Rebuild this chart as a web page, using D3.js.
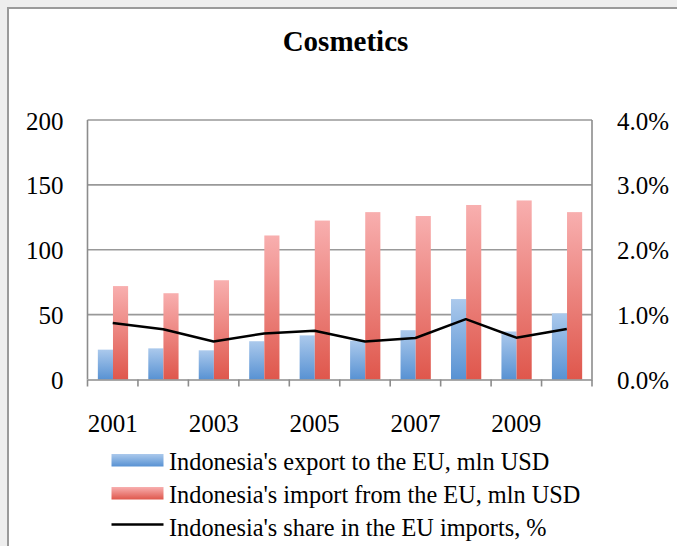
<!DOCTYPE html>
<html>
<head>
<meta charset="utf-8">
<script src="https://cdn.jsdelivr.net/npm/d3@7"></script>
<style>
  html, body { margin: 0; padding: 0; background: #eeeeee; }
  svg { display: block; }
  text { font-family: "Liberation Serif", "Times New Roman", serif; fill: #000; }
</style>
</head>
<body>
<svg id="chart" width="677" height="546"></svg>
<script>
const title = "Cosmetics";
const years = ["2001","2002","2003","2004","2005","2006","2007","2008","2009","2010"];
const exportEU = [23, 24, 22.5, 29.5, 34, 30, 38, 62, 37, 51];
const importEU = [72, 66.5, 76.5, 111, 122.5, 129, 126, 134.5, 138, 129];
const shareEU = [0.0087, 0.00775, 0.00585, 0.0071, 0.0075, 0.00585, 0.0064, 0.0093, 0.00645, 0.0078];
const leftTicks = [0, 50, 100, 150, 200];
const rightTicks = [0, 0.01, 0.02, 0.03, 0.04];
const yearLabels = ["2001","2003","2005","2007","2009"];
const legendLabels = [
  "Indonesia's export to the EU, mln USD",
  "Indonesia's import from the EU, mln USD",
  "Indonesia's share in the EU imports, %"
];

const svg = d3.select("#chart");
const W = 677, H = 546;
const plot = { left: 87.5, right: 592, top: 120, bottom: 379.5 };

// frame
svg.append("rect").attr("x", 8).attr("y", 8).attr("width", W).attr("height", H)
  .attr("fill", "#fff").attr("stroke", "#9a9a9a").attr("stroke-width", 2);

// gradients
const defs = svg.append("defs");
function grad(id, top, bottom) {
  const g = defs.append("linearGradient").attr("id", id)
    .attr("x1", 0).attr("y1", 0).attr("x2", 0).attr("y2", 1);
  g.append("stop").attr("offset", "0%").attr("stop-color", top);
  g.append("stop").attr("offset", "100%").attr("stop-color", bottom);
}
grad("gBlue", "#abc9ec", "#5892d3");
grad("gRed", "#f8afaf", "#df574c");

// title
svg.append("text").attr("x", 345.5).attr("y", 50.5).attr("text-anchor", "middle")
  .style("font-size", "29px").style("font-weight", "bold").text(title);

// scales
const x = d3.scaleBand().domain(years).range([plot.left, plot.right]).padding(0);
const xs = d3.scaleBand().domain(["exp", "imp"]).range([x.bandwidth() * 0.205, x.bandwidth() * 0.805]).padding(0);
const yL = d3.scaleLinear().domain([0, 200]).range([plot.bottom, plot.top]);
const yR = d3.scaleLinear().domain([0, 0.04]).range([plot.bottom, plot.top]);

// gridlines
svg.append("g").selectAll("line").data(leftTicks.filter(d => d > 0)).join("line")
  .attr("x1", plot.left).attr("x2", plot.right)
  .attr("y1", d => yL(d)).attr("y2", d => yL(d))
  .attr("stroke", "#999").attr("stroke-width", 1.6);

// bars
const groups = svg.append("g").selectAll("g").data(years).join("g")
  .attr("transform", d => `translate(${x(d)},0)`);
groups.append("rect")
  .attr("x", xs("exp")).attr("width", xs.bandwidth())
  .attr("y", (d, i) => yL(exportEU[i])).attr("height", (d, i) => plot.bottom - yL(exportEU[i]))
  .attr("fill", "url(#gBlue)");
groups.append("rect")
  .attr("x", xs("imp")).attr("width", xs.bandwidth())
  .attr("y", (d, i) => yL(importEU[i])).attr("height", (d, i) => plot.bottom - yL(importEU[i]))
  .attr("fill", "url(#gRed)");

// axes lines
const axisColor = "#8c8c8c";
svg.append("line").attr("x1", plot.left).attr("x2", plot.left).attr("y1", plot.top).attr("y2", plot.bottom)
  .attr("stroke", axisColor).attr("stroke-width", 1.6);
svg.append("line").attr("x1", plot.right).attr("x2", plot.right).attr("y1", plot.top).attr("y2", plot.bottom)
  .attr("stroke", axisColor).attr("stroke-width", 1.6);

// x axis
const xAxis = d3.axisBottom(x).tickSize(0).tickFormat(d => yearLabels.includes(d) ? d : "");
const gx = svg.append("g").attr("transform", `translate(0,${plot.bottom})`).call(xAxis);
gx.select(".domain").attr("stroke", axisColor).attr("stroke-width", 1.6);
gx.selectAll(".tick text").attr("y", 52).attr("dy", 0)
  .style("font-size", "25px").style("font-family", "Liberation Serif, serif").attr("fill", "#000");
// boundary tick marks
const bounds = years.map(d => x(d)).concat([plot.right]);
svg.append("g").selectAll("line").data(bounds).join("line")
  .attr("x1", d => d).attr("x2", d => d)
  .attr("y1", plot.bottom).attr("y2", plot.bottom + 7)
  .attr("stroke", axisColor).attr("stroke-width", 1.6);

// left axis labels
const gyL = svg.append("g").attr("transform", `translate(${plot.left},0)`)
  .call(d3.axisLeft(yL).tickValues(leftTicks).tickSize(0).tickPadding(24));
gyL.select(".domain").remove();
gyL.selectAll(".tick text").style("font-size", "25px").style("font-family", "Liberation Serif, serif")
  .attr("fill", "#000").attr("dy", "0.36em");

// right axis labels
const gyR = svg.append("g").attr("transform", `translate(${plot.right},0)`)
  .call(d3.axisRight(yR).tickValues(rightTicks).tickSize(0).tickPadding(25).tickFormat(d3.format(".1%")));
gyR.select(".domain").remove();
gyR.selectAll(".tick text").style("font-size", "25px").style("font-family", "Liberation Serif, serif")
  .attr("fill", "#000").attr("dy", "0.36em");

// line
const line = d3.line().x((d, i) => x(years[i]) + x.bandwidth() / 2).y(d => yR(d));
svg.append("path").datum(shareEU).attr("d", line)
  .attr("fill", "none").attr("stroke", "#000").attr("stroke-width", 2.5).attr("stroke-linejoin", "round");

// legend
const lg = svg.append("g");
const lx = 111.5, lw = 52;
const rowY = [454, 487, 520];
lg.append("rect").attr("x", lx).attr("y", rowY[0]).attr("width", lw).attr("height", 12.5).attr("fill", "url(#gBlue)");
lg.append("rect").attr("x", lx).attr("y", rowY[1]).attr("width", lw).attr("height", 12.5).attr("fill", "url(#gRed)");
lg.append("line").attr("x1", lx).attr("x2", lx + lw).attr("y1", rowY[2] + 4.5).attr("y2", rowY[2] + 4.5)
  .attr("stroke", "#000").attr("stroke-width", 2.5);
lg.selectAll("text").data(legendLabels).join("text")
  .attr("x", 169).attr("y", (d, i) => rowY[i] + 16)
  .style("font-size", "24.3px").text(d => d);
</script>
</body>
</html>
